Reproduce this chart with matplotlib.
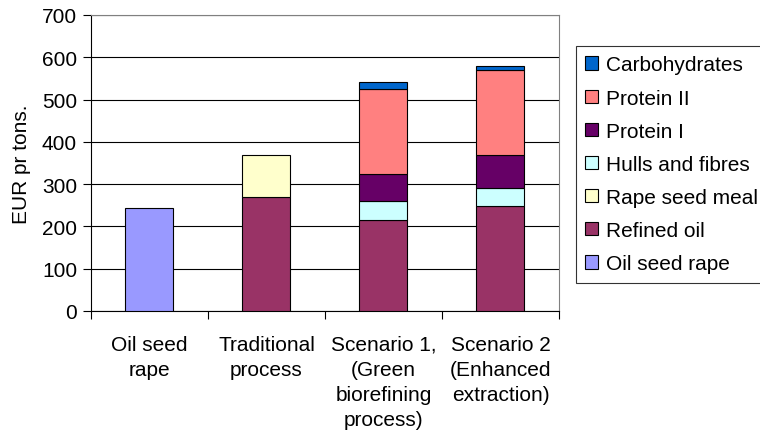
import numpy as np
import matplotlib
matplotlib.use('Agg')
import matplotlib.pyplot as plt

# categories and stacked series (EUR pr tons)
categories = ['Oil seed\nrape', 'Traditional\nprocess', 'Scenario 1,\n(Green\nbiorefining\nprocess)',
              'Scenario 2\n(Enhanced\nextraction)']
oil_seed_rape = [243, 0, 0, 0]
refined_oil = [0, 270, 215, 249]
rape_seed_meal = [0, 100, 0, 0]
hulls_fibres = [0, 0, 44, 41]
protein_1 = [0, 0, 66, 80]
protein_2 = [0, 0, 201, 201]
carbohydrates = [0, 0, 15, 8]

series = [('Oil seed rape', oil_seed_rape, '#9999FF'),
          ('Refined oil', refined_oil, '#993366'),
          ('Rape seed meal', rape_seed_meal, '#FFFFCC'),
          ('Hulls and fibres', hulls_fibres, '#CCFFFF'),
          ('Protein I', protein_1, '#660066'),
          ('Protein II', protein_2, '#FF8080'),
          ('Carbohydrates', carbohydrates, '#0066CC')]

plt.rcParams['font.family'] = ['Liberation Sans', 'DejaVu Sans']
plt.rcParams['font.size'] = 15

fig = plt.figure(figsize=(7.6, 4.39), dpi=100)
ax = fig.add_axes([0.1197, 0.2893, 0.6158, 0.6743])

x = np.arange(len(categories))
bottom = np.zeros(len(categories))
handles = []
for name, vals, color in series:
    vals = np.array(vals, dtype=float)
    mask = vals > 0
    b = ax.bar(x[mask], vals[mask], 0.41, bottom=bottom[mask], color=color,
               edgecolor='black', linewidth=0.8, zorder=3, label=name)
    handles.append(b)
    bottom += vals

ax.set_xlim(-0.5, len(categories) - 0.5)
ax.set_ylim(0, 700)
ax.set_yticks(range(0, 701, 100))
ax.yaxis.grid(True, color='black', linewidth=0.8, zorder=0)
ax.set_axisbelow(True)

ax.set_xticks(x)
ax.set_xticklabels(categories, va='top', linespacing=1.4)
ax.set_xticks(np.arange(-0.5, len(categories), 1.0), minor=True)
ax.tick_params(axis='x', which='major', length=0, pad=17)
ax.tick_params(axis='x', which='minor', length=6, direction='out', width=0.8)
ax.tick_params(axis='y', length=6, direction='out', width=0.8, pad=4)

for s in ['top', 'right']:
    ax.spines[s].set_color('#808080')
ax.spines['left'].set_linewidth(0.8)
ax.spines['bottom'].set_linewidth(0.8)

ax.set_ylabel('EUR pr tons.', labelpad=8)

leg = fig.legend(handles[::-1], [s[0] for s in series][::-1], loc='upper left',
                 bbox_to_anchor=(576 / 760, 1 - 47 / 439), frameon=True, fancybox=False,
                 shadow=False, edgecolor='black', handlelength=0.6, handleheight=0.6,
                 handletextpad=0.4, labelspacing=0.68, borderpad=0.45, borderaxespad=0)
leg.get_frame().set_linewidth(0.8)

fig.savefig('out.png', dpi=100)
